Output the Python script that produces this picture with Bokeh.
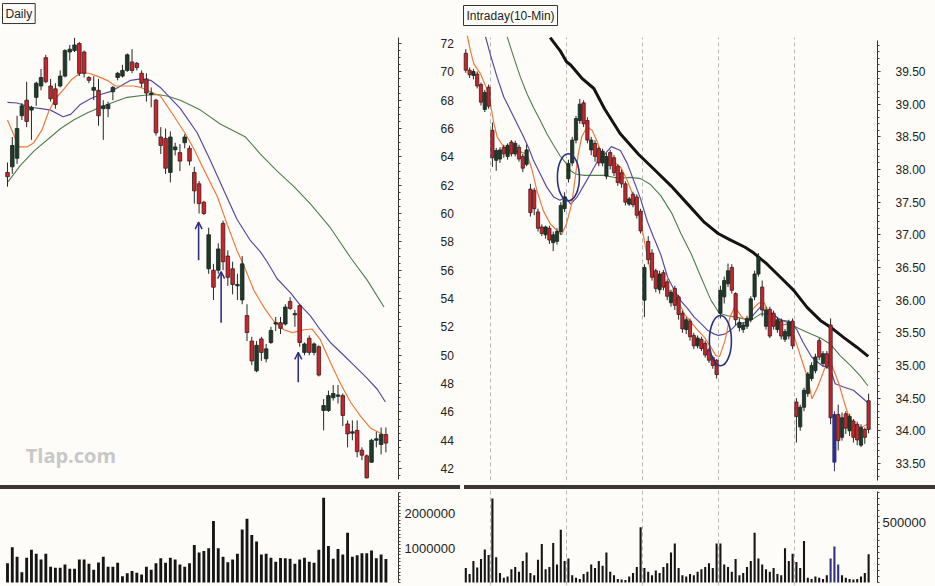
from bokeh.plotting import figure
from bokeh.layouts import row, column
from bokeh.models import (Range1d, LinearAxis, SingleIntervalTicker, FixedTicker,
                          PrintfTickFormatter, Label, Arrow, OpenHead, ColumnDataSource, Div)
from bokeh.embed import file_html
from bokeh.resources import INLINE

# ---------------- DAILY data ----------------
daily_open = [62.9, 63.3, 63.9, 66.9, 68.0, 67.3, 68.2, 69.0, 71.0, 69.0,
              68.8, 69.0, 69.7, 71.4, 71.5, 72.0, 71.4, 69.6, 68.7, 68.7,
              67.4, 67.4, 68.6, 69.6, 69.7, 70.1, 70.7, 70.6, 69.9, 69.5,
              68.4, 68.0, 65.4, 65.3, 62.9, 64.5, 64.3, 65.0, 64.6, 62.9,
              62.1, 60.8, 56.1, 56.0, 56.0, 59.3, 57.0, 56.1, 54.9, 53.9,
              52.8, 51.0, 48.9, 51.15, 49.75, 50.9, 52.2, 52.3, 52.2, 53.8,
              52.85, 53.5, 50.2, 51.2, 50.2, 50.6, 46.1, 46.1, 47.0, 47.1,
              47.15, 45.15, 44.5, 44.7, 43.3, 42.9, 42.45, 44.0, 43.7, 44.4]
daily_high = [63.6, 65.4, 66.9, 67.8, 69.3, 67.6, 69.3, 70.2, 71.2, 69.5,
              69.2, 70.1, 71.6, 71.9, 72.4, 72.1, 71.5, 69.7, 69.7, 69.5,
              68.0, 67.9, 69.0, 70.0, 70.5, 71.3, 71.6, 70.7, 70.1, 69.9,
              68.9, 68.1, 66.1, 66.0, 65.8, 65.0, 64.9, 65.6, 64.8, 63.3,
              62.3, 60.9, 59.0, 56.45, 57.9, 59.5, 57.4, 56.6, 55.75, 57.0,
              53.6, 51.3, 51.0, 51.3, 50.8, 52.0, 52.7, 52.7, 53.6, 54.1,
              53.2, 53.6, 50.9, 51.4, 50.9, 50.7, 46.9, 47.5, 47.9, 47.9,
              47.3, 45.4, 45.4, 45.4, 43.5, 43.0, 44.1, 44.6, 44.9, 44.9]
daily_low = [61.9, 62.8, 63.5, 66.6, 66.1, 65.2, 67.6, 68.7, 69.2, 67.9,
             67.4, 68.9, 69.6, 70.8, 71.4, 69.7, 69.6, 69.2, 68.0, 66.2,
             65.2, 66.8, 68.0, 69.4, 69.6, 70.0, 69.9, 70.1, 68.9, 67.9,
             67.5, 65.5, 64.2, 62.8, 62.2, 64.1, 63.0, 64.6, 63.4, 60.7,
             60.0, 59.9, 55.75, 53.9, 55.75, 56.0, 54.9, 54.3, 53.9, 53.6,
             51.0, 49.3, 48.8, 49.6, 49.5, 50.8, 51.7, 51.5, 52.1, 53.2,
             52.0, 50.6, 50.0, 50.0, 50.0, 48.5, 44.7, 46.0, 46.8, 46.6,
             45.0, 43.5, 44.0, 42.8, 42.6, 41.3, 42.4, 43.5, 43.0, 43.15]
daily_close = [62.6, 64.8, 66.0, 67.6, 66.5, 67.5, 69.2, 69.6, 69.3, 68.1,
               67.7, 69.7, 71.5, 71.6, 71.9, 69.9, 69.9, 69.4, 68.9, 66.9,
               67.6, 67.7, 68.9, 69.9, 70.1, 71.2, 70.1, 70.3, 69.2, 68.5,
               68.5, 65.7, 64.8, 63.2, 65.4, 64.7, 63.7, 65.4, 63.7, 61.6,
               60.7, 60.0, 58.5, 54.8, 57.5, 56.6, 55.5, 55.0, 55.0, 56.45,
               51.6, 49.6, 50.7, 50.2, 50.45, 51.75, 52.3, 51.9, 53.4, 53.3,
               52.95, 50.9, 50.8, 50.2, 50.8, 48.6, 46.45, 47.15, 47.3, 47.2,
               45.75, 44.45, 44.6, 43.2, 42.95, 41.35, 44.0, 44.1, 44.4, 43.8]
daily_volume = [560000, 1020000, 750000, 300000, 720000, 950000, 830000, 670000, 830000, 460000,
                430000, 430000, 520000, 400000, 400000, 670000, 670000, 540000, 370000, 580000,
                750000, 460000, 460000, 570000, 180000, 270000, 330000, 280000, 230000, 460000,
                370000, 560000, 700000, 570000, 720000, 670000, 520000, 460000, 560000, 1090000,
                870000, 910000, 990000, 1780000, 990000, 750000, 590000, 670000, 830000, 1540000,
                1850000, 1380000, 1190000, 810000, 830000, 720000, 600000, 710000, 700000, 690000,
                540000, 670000, 720000, 600000, 570000, 950000, 2460000, 1060000, 690000, 970000,
                810000, 1440000, 750000, 790000, 850000, 850000, 930000, 700000, 810000, 680000]

daily_fast_x = [0, 2.4, 4.1, 5.5, 7.2, 8.6, 10.0, 11.8, 13.5, 15.2, 17.0, 18.7, 20.8, 22.5,
                24.3, 26.4, 27.8, 29.9, 31.9, 34.7, 37.0, 39.0, 41.0, 43.8, 45.9, 47.9, 49.5,
                51.4, 53.5, 55.6, 57.7, 59.5, 61.9, 63.6, 65.3, 67.4, 69.5, 71.6, 73.7, 75.8,
                77.9, 79.0]
daily_fast_y = [66.6, 64.7, 64.7, 65.0, 65.9, 67.2, 68.1, 68.8, 69.5, 69.9, 69.9, 69.7, 69.4,
                69.0, 69.0, 69.0, 68.9, 68.6, 68.3, 66.9, 65.7, 64.5, 63.1, 61.2, 59.2, 57.4,
                56.2, 54.6, 53.4, 52.4, 51.8, 51.6, 51.8, 51.85, 51.1, 49.5, 48.0, 46.7, 45.7,
                44.85, 44.5, 44.3]
daily_mid_x = [0, 2, 4.8, 7, 9, 11.6, 13.2, 15.2, 17.3, 19.4, 21.5, 23.6, 25.7, 27.8, 29.9,
               31.9, 36.1, 39.6, 42.4, 45.2, 47.9, 50.7, 52.8, 54.2, 56.3, 59.1, 61.2, 63.2,
               65.3, 67.4, 70.2, 72.3, 75.0, 77.2, 78.9]
daily_mid_y = [67.85, 67.8, 67.5, 67.4, 67.3, 66.83, 67.0, 67.7, 68.1, 68.4, 68.6, 69.0, 69.4,
               69.5, 69.4, 68.9, 67.4, 65.7, 63.7, 61.6, 59.6, 58.1, 57.3, 56.6, 55.4, 54.4,
               53.5, 52.8, 51.8, 50.9, 50.0, 49.3, 48.4, 47.6, 46.7]
daily_slow_x = [0, 2.7, 5.5, 9, 11.1, 13.8, 16.6, 19.4, 22.5, 25, 28.5, 31.3, 33.3, 36.1,
                40.3, 44.5, 49.7, 52.8, 56.3, 59.8, 63.2, 67.4, 71.6, 75.1, 78.6]
daily_slow_y = [62.2, 63.4, 64.4, 65.4, 66.0, 66.6, 67.1, 67.5, 67.9, 68.2, 68.35, 68.4, 68.3,
                68.0, 67.3, 66.3, 65.4, 64.2, 63.0, 61.9, 60.7, 59.0, 56.9, 55.3, 53.4]

daily_arrow_x = [39.9, 44.6, 60.7]
daily_arrow_head = [59.4, 55.9, 50.2]
daily_arrow_tail = [56.7, 52.3, 48.1]

# ---------------- INTRADAY data ----------------
intra_bars_per_day = 20
intra_first_bar = -7
intra_open = [39.78, 39.52, 39.44, 39.46, 39.30, 38.92, 39.26,
              38.60, 38.14, 38.16, 38.34, 38.20, 38.42, 38.24, 38.34, 38.20, 38.08,
              37.70, 37.68, 37.35, 37.12, 37.00, 37.10, 36.88, 36.90, 37.05, 37.40,
              37.86, 38.10, 38.45, 38.75, 39.02, 38.75, 38.30, 38.40, 38.32, 38.10,
              37.90, 38.26, 38.18, 38.05, 37.95, 37.78, 37.47, 37.62, 37.58, 37.36,
              36.00, 36.90, 36.72, 36.45, 36.16, 36.42, 36.28, 35.96, 36.18, 36.05,
              35.80, 35.55, 35.68, 35.46, 35.30, 35.40, 35.34, 35.24, 35.12, 35.08,
              35.80, 36.05, 36.25, 36.50, 36.10, 35.58, 35.55, 35.60, 35.70, 36.05,
              36.40, 36.20, 35.60, 35.86, 35.80, 35.55, 35.68, 35.40, 35.45, 35.68,
              34.44, 34.06, 34.36, 34.57, 34.80, 34.92, 35.38, 35.03, 35.18, 35.62,
              33.52, 34.25, 33.90, 34.26, 34.00, 34.15, 34.10, 33.78, 34.02, 34.46]
intra_high = [39.84, 39.56, 39.54, 39.50, 39.33, 39.22, 39.30,
              38.72, 38.33, 38.34, 38.38, 38.40, 38.45, 38.44, 38.38, 38.24, 38.38,
              37.78, 37.72, 37.40, 37.16, 37.14, 37.14, 37.05, 37.10, 37.50, 37.65,
              38.15, 38.50, 38.82, 39.08, 39.06, 38.80, 38.50, 38.45, 38.35, 38.32,
              38.25, 38.30, 38.22, 38.08, 38.00, 37.82, 37.58, 37.66, 37.62, 37.40,
              36.55, 36.98, 36.78, 36.48, 36.45, 36.46, 36.32, 36.16, 36.22, 36.08,
              35.84, 35.74, 35.72, 35.50, 35.46, 35.44, 35.38, 35.27, 35.15, 35.10,
              36.22, 36.36, 36.56, 36.55, 36.12, 35.72, 35.66, 35.76, 36.06, 36.45,
              36.72, 36.30, 35.90, 35.90, 35.84, 35.74, 35.72, 35.56, 35.70, 35.72,
              34.50, 34.40, 34.66, 34.90, 35.05, 35.18, 35.42, 35.22, 35.22, 35.72,
              34.30, 34.40, 34.28, 34.30, 34.26, 34.18, 34.14, 34.10, 34.05, 34.57]
intra_low = [39.48, 39.40, 39.38, 39.24, 38.98, 38.88, 38.93,
             38.04, 37.98, 38.10, 38.18, 38.15, 38.20, 38.20, 38.12, 37.96, 38.05,
             37.28, 37.30, 37.05, 36.98, 36.94, 36.86, 36.75, 36.85, 37.00, 37.35,
             37.80, 38.05, 38.40, 38.70, 38.65, 38.40, 38.22, 38.12, 38.05, 38.05,
             37.85, 38.00, 37.90, 37.75, 37.72, 37.45, 37.44, 37.42, 37.25, 37.02,
             35.74, 36.55, 36.30, 36.12, 36.10, 36.15, 36.00, 35.90, 35.85, 35.70,
             35.50, 35.48, 35.38, 35.25, 35.26, 35.22, 35.12, 35.04, 34.95, 34.80,
             35.72, 35.95, 36.20, 36.10, 35.62, 35.52, 35.50, 35.56, 35.66, 36.00,
             36.36, 35.75, 35.55, 35.42, 35.55, 35.50, 35.40, 35.36, 35.40, 35.25,
             33.82, 34.00, 34.30, 34.52, 34.76, 34.88, 35.08, 34.98, 34.95, 34.10,
             33.38, 33.70, 33.85, 33.95, 33.92, 33.82, 33.78, 33.75, 33.80, 33.96]
intra_close = [39.52, 39.45, 39.50, 39.28, 39.03, 39.18, 38.97,
               38.18, 38.29, 38.30, 38.24, 38.37, 38.24, 38.40, 38.16, 38.02, 38.30,
               37.34, 37.40, 37.10, 37.02, 37.12, 36.92, 37.00, 37.05, 37.45, 37.58,
               38.09, 38.45, 38.78, 39.00, 38.70, 38.45, 38.45, 38.20, 38.10, 38.28,
               38.20, 38.06, 37.95, 37.80, 37.78, 37.50, 37.55, 37.46, 37.30, 37.06,
               36.50, 36.62, 36.35, 36.18, 36.40, 36.20, 36.06, 36.12, 35.92, 35.78,
               35.56, 35.70, 35.44, 35.30, 35.42, 35.26, 35.16, 35.08, 35.00, 34.86,
               36.15, 36.30, 36.45, 36.15, 35.70, 35.66, 35.62, 35.72, 36.02, 36.40,
               36.66, 35.85, 35.85, 35.45, 35.60, 35.70, 35.45, 35.52, 35.66, 35.30,
               34.22, 34.36, 34.62, 34.87, 35.00, 35.13, 35.13, 35.18, 34.98, 34.20,
               34.25, 33.85, 34.20, 34.04, 34.22, 33.90, 33.86, 34.05, 33.90, 34.02]
intra_volume = [120000, 70000, 180000, 125000, 195000, 275000, 230000,
                700000, 210000, 80000, 40000, 50000, 110000, 130000, 90000, 180000, 250000,
                80000, 60000, 190000, 320000, 110000, 130000, 330000, 150000, 440000, 180000,
                200000, 60000, 40000, 30000, 70000, 90000, 150000, 120000, 180000, 140000,
                250000, 90000, 60000, 30000, 25000, 20000, 50000, 80000, 130000, 460000,
                120000, 90000, 60000, 100000, 80000, 130000, 160000, 250000, 325000, 120000,
                60000, 50000, 70000, 60000, 90000, 110000, 130000, 160000, 120000, 325000,
                325000, 150000, 130000, 90000, 195000, 60000, 80000, 130000, 180000, 415000,
                200000, 150000, 110000, 90000, 120000, 70000, 60000, 285000, 180000, 240000,
                170000, 120000, 345000, 40000, 30000, 50000, 40000, 30000, 60000, 200000,
                300000, 150000, 60000, 40000, 30000, 25000, 30000, 50000, 80000, 235000]
intra_highlight_bar = 90

intra_fast_x = [-6.6, -5.8, -4.9, -3.1, -1.3, -0.5, 0.4, 1.25, 3.0, 4.8, 7.4, 9.1, 10.5, 11.7,
                13.4, 15.2, 16.9, 18.2, 19.5, 20.9, 21.8, 22.6, 23.5, 24.9, 26.2, 27.5, 28.4,
                30.1, 31.9, 33.7, 35.5, 37.2, 39.0, 40.3, 41.6, 43.5, 45.3, 47.0, 48.8, 50.5,
                52.3, 54.0, 55.8, 57.5, 58.8, 59.8, 61.2, 62.5, 63.8, 65.4, 67.2, 68.6, 70.2,
                71.6, 72.9, 74.7, 76.4, 78.3, 80.2, 81.6, 82.9, 84.1, 85.6, 87.4, 88.9, 90.0,
                91.3, 92.6, 93.9, 95.4, 96.9, 98.8]
intra_fast_y = [40.05, 39.82, 39.62, 39.46, 39.21, 39.0, 38.7, 38.5, 38.34, 38.29, 38.27, 38.24,
                37.98, 37.68, 37.37, 37.17, 37.07, 37.0, 37.17, 37.48, 37.88, 38.24, 38.5, 38.65,
                38.6, 38.44, 38.29, 38.16, 38.12, 38.04, 37.83, 37.58, 37.22, 36.81, 36.45,
                36.28, 36.2, 36.12, 35.99, 35.79, 35.66, 35.54, 35.43, 35.28, 35.15, 35.14,
                35.38, 35.74, 35.9, 35.76, 35.66, 35.87, 35.96, 35.95, 35.8, 35.62, 35.62,
                35.64, 35.3, 35.05, 34.82, 34.49, 34.67, 34.95, 35.08, 34.9, 34.7, 34.43, 34.2,
                34.1, 34.05, 34.1]
intra_mid_x = [-1.8, -0.5, 1.25, 3.0, 4.8, 6.5, 8.2, 9.6, 10.8, 12.6, 14.3, 16.1, 17.8, 19.2,
               20.6, 22.3, 24.1, 25.8, 27.5, 29.2, 31.3, 33.7, 35.5, 37.2, 39.0, 40.8, 42.5,
               44.3, 46.1, 47.9, 49.6, 51.4, 53.1, 54.9, 56.6, 58.4, 59.5, 61.1, 62.7, 64.5,
               67.1, 68.9, 70.6, 72.3, 73.6, 75.6, 78.3, 80.2, 81.7, 84.0, 86.7, 88.9, 90.2,
               92.4, 95.0, 97.0, 98.8]
intra_mid_y = [40.03, 39.75, 39.41, 39.11, 38.9, 38.7, 38.5, 38.32, 38.14, 37.93, 37.73, 37.58,
               37.53, 37.58, 37.47, 37.58, 37.76, 37.93, 38.11, 38.21, 38.35, 38.29, 38.09,
               37.83, 37.55, 37.2, 36.95, 36.7, 36.35, 36.15, 35.99, 35.87, 35.74, 35.64,
               35.54, 35.48, 35.46, 35.48, 35.54, 35.64, 35.66, 35.79, 35.9, 35.8, 35.8, 35.7,
               35.67, 35.54, 35.36, 35.13, 35.0, 34.95, 34.72, 34.67, 34.62, 34.52, 34.43]
intra_slow_x = [3.9, 5.6, 7.4, 9.1, 10.8, 12.6, 14.3, 16.1, 17.8, 19.2, 20.6, 21.9, 24.1, 26.7,
                29.2, 31.9, 33.7, 36.3, 39.0, 41.6, 44.3, 47.3, 49.6, 52.3, 54.9, 57.5, 59.7,
                61.8, 64.2, 68.0, 70.6, 73.5, 75.9, 78.4, 80.5, 82.8, 86.3, 88.9, 91.5, 94.2,
                96.8, 98.8]
intra_slow_y = [40.03, 39.72, 39.41, 39.16, 38.95, 38.75, 38.55, 38.37, 38.21, 38.11, 37.98,
                37.93, 37.91, 37.91, 37.91, 37.88, 37.87, 37.88, 37.86, 37.77, 37.6, 37.32,
                37.02, 36.71, 36.35, 36.0, 35.8, 35.76, 35.74, 35.69, 35.79, 35.78, 35.7,
                35.64, 35.57, 35.51, 35.42, 35.33, 35.15, 35.0, 34.84, 34.69]
intra_long_x = [15.2, 17.8, 19.5, 20.6, 23.5, 26.7, 29.5, 33.6, 38.5, 42.6, 47.0, 51.4, 55.8,
                59.4, 62.3, 66.5, 68.8, 72.3, 75.8, 79.3, 82.8, 86.3, 88.9, 92.4, 95.9, 98.9]
intra_long_y = [40.02, 39.82, 39.65, 39.6, 39.4, 39.24, 38.93, 38.55, 38.23, 38.0, 37.75,
                37.47, 37.19, 37.02, 36.93, 36.81, 36.72, 36.55, 36.35, 36.15, 35.89, 35.69,
                35.59, 35.43, 35.28, 35.14]
intra_circle_x = [20.0, 60.0]
intra_circle_y = [37.88, 35.38]
intra_circle_h = [0.72, 0.77]

# ---------------- styling ----------------
BG = "#fdfcf8"
SEP = "#3e3636"
UP = "#1f3a2a"
UP_EDGE = "#17261c"
DOWN = "#c8252c"
DOWN_EDGE = "#3b1c1c"
WICK = "#262626"
NAVY = "#2e3082"
ORANGE = "#f07a3c"
PURPLE = "#5a4b9e"
GREEN = "#4f7d4c"
FONT = "Liberation Sans"


def base_fig(w, h, xr, yr, left, right, top, bottom):
    p = figure(width=w, height=h, x_range=xr, y_range=yr, toolbar_location=None,
               output_backend="svg", x_axis_location=None, y_axis_location=None,
               min_border_left=left, min_border_right=right, min_border_top=top,
               min_border_bottom=bottom, background_fill_color=BG,
               border_fill_color=BG, outline_line_color=None)
    p.grid.visible = False
    p.xgrid.grid_line_color = None
    p.ygrid.grid_line_color = None
    return p


def right_axis(p, ticker, fmt, bounds, tick_out, standoff, size):
    ax = LinearAxis(ticker=ticker, formatter=PrintfTickFormatter(format=fmt), bounds=bounds)
    ax.axis_line_color = "#333333"
    ax.major_tick_line_color = "#333333"
    ax.minor_tick_line_color = "#444444"
    ax.major_tick_out = tick_out
    ax.major_tick_in = 0
    ax.minor_tick_out = 2
    ax.minor_tick_in = 0
    ax.major_label_standoff = standoff
    ax.major_label_text_font = FONT
    ax.major_label_text_font_size = size
    ax.major_label_text_color = "#222222"
    p.add_layout(ax, "right")


def draw_candles(p, x, o, h, l, c, width, special=None):
    fills, edges, wicks = [], [], []
    for k, (oo, cc) in enumerate(zip(o, c)):
        if special is not None and x[k] == special:
            fills.append(NAVY); edges.append(NAVY); wicks.append(NAVY)
        elif cc < oo:
            fills.append(DOWN); edges.append(DOWN_EDGE); wicks.append(WICK)
        else:
            fills.append(UP); edges.append(UP_EDGE); wicks.append(WICK)
    src = ColumnDataSource(dict(x=x, h=h, l=l,
                                top=[max(a, b) for a, b in zip(o, c)],
                                bottom=[min(a, b) for a, b in zip(o, c)],
                                fill=fills, edge=edges, wick=wicks))
    p.segment(x0="x", y0="l", x1="x", y1="h", line_color="wick", line_width=1, source=src)
    p.vbar(x="x", width=width, top="top", bottom="bottom", fill_color="fill",
           line_color="edge", line_width=0.8, source=src)


# ---------------- DAILY price ----------------
n_daily = len(daily_close)
daily_x = list(range(n_daily))
d_xr = Range1d(-1.46, 81.63)
pL = base_fig(462, 485, d_xr, Range1d(41.16, 75.035), 0, 64, 0, 5)
right_axis(pL, SingleIntervalTicker(interval=2, num_minor_ticks=4), "%d", (41.2, 72.42), 3, 39, "12px")
pL.line(daily_slow_x, daily_slow_y, line_color=GREEN, line_width=1.1)
pL.line(daily_mid_x, daily_mid_y, line_color=PURPLE, line_width=1.2)
pL.line(daily_fast_x, daily_fast_y, line_color=ORANGE, line_width=1.2)
draw_candles(pL, daily_x, daily_open, daily_high, daily_low, daily_close, 0.75)
for ax_, hd, tl in zip(daily_arrow_x, daily_arrow_head, daily_arrow_tail):
    pL.add_layout(Arrow(end=OpenHead(size=7, line_color=NAVY, line_width=1.5),
                        x_start=ax_, y_start=tl, x_end=ax_, y_end=hd,
                        line_color=NAVY, line_width=1.6))
pL.add_layout(Label(x=-1.04, y=74.82, text="Daily", text_font=FONT, text_font_size="12px",
                    text_color="#222222", text_baseline="top", text_align="left",
                    border_line_color="#333333", border_line_width=1,
                    background_fill_color=BG, padding=3))
pL.add_layout(Label(x=3.8, y=42.92, text="Tlap.com", text_font="Open Sans",
                    text_font_size="20px", text_font_style="bold", text_color="#c8c8c8",
                    text_baseline="middle", text_align="left"))

# ---------------- DAILY volume ----------------
vL = base_fig(462, 97, d_xr, Range1d(-87000, 2667000), 0, 64, 1, 1)
right_axis(vL, FixedTicker(ticks=[1000000, 2000000], minor_ticks=list(range(0, 2600001, 100000))),
           "%d", (0, 2600000), 2, 4, "13px")
vL.vbar(x=daily_x, width=0.6, top=daily_volume, bottom=0, fill_color="#151515", line_color=None)

# ---------------- INTRADAY price ----------------
n_intra = len(intra_close)
intra_x = [intra_first_bar + k for k in range(n_intra)]
day_lines = [b - 0.5 for b in intra_x if b >= 0 and b % intra_bars_per_day == 0]
i_xr = Range1d(-7.87, 101.34)
pR = base_fig(473, 485, i_xr, Range1d(33.239, 40.587), 0, 58, 0, 5)
right_axis(pR, SingleIntervalTicker(interval=0.5, num_minor_ticks=5), "%.2f", (33.24, 39.98), 3, 15, "12px")
pR.segment(x0=day_lines, y0=[33.24] * len(day_lines), x1=day_lines, y1=[40.02] * len(day_lines),
           line_color="#b8b8b8", line_width=1, line_dash="4 3")
pR.line(intra_slow_x, intra_slow_y, line_color=GREEN, line_width=1.1)
pR.line(intra_mid_x, intra_mid_y, line_color=PURPLE, line_width=1.2)
pR.line(intra_fast_x, intra_fast_y, line_color=ORANGE, line_width=1.2)
pR.line(intra_long_x, intra_long_y, line_color="#141414", line_width=3)
draw_candles(pR, intra_x, intra_open, intra_high, intra_low, intra_close, 0.85,
             special=intra_highlight_bar)
pR.ellipse(x=intra_circle_x, y=intra_circle_y, width=[5.8] * 2, height=intra_circle_h,
           fill_color=None, line_color=NAVY, line_width=1.6)
pR.add_layout(Label(x=-7.6, y=40.51, text="Intraday(10-Min)", text_font=FONT,
                    text_font_size="12px", text_color="#222222", text_baseline="top",
                    text_align="left", border_line_color="#333333", border_line_width=1,
                    background_fill_color=BG, padding=3))

# ---------------- INTRADAY volume ----------------
vR = base_fig(473, 97, i_xr, Range1d(-25000, 766667), 0, 58, 1, 1)
right_axis(vR, FixedTicker(ticks=[500000], minor_ticks=list(range(0, 750001, 50000))),
           "%d", (0, 760000), 2, 3, "13px")
vR.segment(x0=day_lines, y0=[-25000] * len(day_lines), x1=day_lines, y1=[766667] * len(day_lines),
           line_color="#b8b8b8", line_width=1, line_dash="4 3")
vcol = [NAVY if abs(b - intra_highlight_bar) <= 1 else "#151515" for b in intra_x]
vR.vbar(x=intra_x, width=0.55, top=intra_volume, bottom=0, fill_color=vcol, line_color=None)


# ---------------- separator strips (thick dark rule between price and volume) ----------------
def strip(w, left, right):
    return Div(text="", width=w - left - right, height=4, margin=(0, right, 0, left),
               styles={"background-color": SEP, "height": "4px", "width": f"{w - left - right}px"})


sL = strip(462, 0, 2)
sR = strip(473, 2, 0)

layout = row(column(pL, sL, vL, spacing=0), column(pR, sR, vR, spacing=0), spacing=0)

html = file_html(layout, INLINE)
html = html.replace("<body>", '<body style="margin:0;background:%s;">' % BG, 1)
with open("out.html", "w", encoding="utf-8") as f:
    f.write(html)
